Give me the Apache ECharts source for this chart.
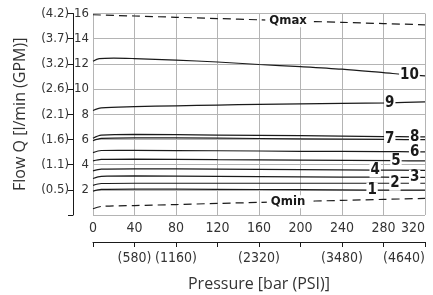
<!DOCTYPE html>
<html lang="en">
<head>
<meta charset="UTF-8">
<title>Flow vs Pressure</title>
<script src="https://cdn.jsdelivr.net/npm/echarts@6/dist/echarts.min.js"></script>
<style>
html, body { margin: 0; padding: 0; background: #fff; }
#chart { width: 433px; height: 295px; }
</style>
</head>
<body>
<div id="chart"></div>
<script>
// pressure ticks (bar) and their PSI labels
const barTicks = [0, 40, 80, 120, 160, 200, 240, 280, 320];
const psiLabels = { 40: '(580)', 80: '(1160)', 160: '(2320)', 240: '(3480)', 320: '(4640)' };
// flow ticks (l/min) and GPM labels
const flowTicks = [0, 2, 4, 6, 8, 10, 12, 14, 16];
const gpmLabels = { 2: '(0.5)', 4: '(1.1)', 6: '(1.6)', 8: '(2.1)', 10: '(2.6)', 12: '(3.2)', 14: '(3.7)', 16: '(4.2)' };

// curves: [pressure bar, flow l/min]
const qmax = [[0, 15.9], [40, 15.8], [80, 15.7], [120, 15.6], [160, 15.5], [188, 15.42], [240, 15.3], [280, 15.2], [320, 15.1]];
const c10 = [[0, 12.2], [6, 12.42], [20, 12.46], [40, 12.42], [80, 12.3], [120, 12.15], [160, 11.95], [200, 11.78], [240, 11.58], [280, 11.3], [305, 11.12], [320, 11.05]];
const c9 = [[0, 8.3], [8, 8.5], [40, 8.6], [80, 8.67], [120, 8.73], [160, 8.79], [200, 8.83], [240, 8.87], [286, 8.91], [320, 8.98]];
const c8 = [[0, 6.1], [8, 6.35], [40, 6.4], [120, 6.35], [200, 6.3], [280, 6.23], [310, 6.21], [320, 6.2]];
const c7 = [[0, 5.9], [8, 6.08], [40, 6.13], [120, 6.1], [200, 6.05], [286, 6.0], [320, 5.98]];
const c6 = [[0, 4.95], [8, 5.12], [40, 5.13], [120, 5.1], [200, 5.06], [280, 5.03], [310, 5.02], [320, 5.01]];
const c5 = [[0, 4.3], [8, 4.42], [40, 4.44], [120, 4.4], [200, 4.36], [292, 4.31], [320, 4.3]];
const c4 = [[0, 3.5], [8, 3.65], [40, 3.67], [120, 3.64], [200, 3.6], [272, 3.57], [320, 3.55]];
const c3 = [[0, 2.9], [8, 3.07], [40, 3.1], [120, 3.07], [200, 3.03], [280, 3.0], [310, 2.99], [320, 2.98]];
const c2 = [[0, 2.35], [8, 2.5], [40, 2.52], [120, 2.52], [200, 2.52], [291, 2.52], [320, 2.52]];
const c1 = [[0, 1.9], [8, 2.04], [40, 2.06], [120, 2.04], [200, 2.01], [269, 1.98], [320, 1.97]];
const qmin = [[0, 0.5], [8, 0.68], [40, 0.75], [80, 0.83], [120, 0.92], [160, 1.0], [188, 1.06], [240, 1.16], [280, 1.24], [320, 1.32]];

// curve names and the pressure where the name sits on the line
const curveNames = ['Qmax', '10', '9', '8', '7', '6', '5', '4', '3', '2', '1', 'Qmin'];
const curveData = [qmax, c10, c9, c8, c7, c6, c5, c4, c3, c2, c1, qmin];
const labelAt = [188, 305, 286, 310, 286, 310, 292, 272, 310, 291, 269, 188];

const narrow = "'Liberation Sans Narrow', 'DejaVu Sans Condensed', 'Roboto Condensed', sans-serif";
const plain = "'Open Sans', 'Noto Sans', sans-serif";
const gridColor = '#b4b4b4';

const series = curveData.map((pts, i) => {
const name = curveNames[i];
const dashed = name === 'Qmax' || name === 'Qmin';
return {
name: name,
type: 'line',
smooth: 0.3,
symbol: 'circle',
symbolSize: 0,
showSymbol: true,
lineStyle: { color: '#1a1a1a', width: 1.2, type: dashed ? [8, 5] : 'solid' },
itemStyle: { color: '#1a1a1a' },
label: { show: false },
emphasis: { disabled: true },
data: pts.map(p => {
if (p[0] !== labelAt[i]) return p;
return {
value: p,
label: {
show: true,
position: 'inside',
formatter: name,
fontFamily: narrow,
fontWeight: 'bold',
fontSize: dashed ? 13 : 15,
color: '#1a1a1a',
backgroundColor: '#fff',
padding: dashed ? [0, 4] : [0, 1]
}
};
})
};
});

const chart = echarts.init(document.getElementById('chart'));
chart.setOption({
animation: false,
grid: { left: 93, right: 8, top: 13.5, bottom: 80, outerBoundsMode: 'none' },
xAxis: [
{
type: 'value', min: 0, max: 320, interval: 40,
axisLine: { show: false },
axisTick: { show: false },
axisLabel: { margin: 6, fontSize: 14, fontFamily: narrow, color: '#333', alignMaxLabel: 'right' },
splitLine: { show: true, lineStyle: { color: gridColor, width: 1 } }
},
{
type: 'value', min: 0, max: 320, interval: 40,
position: 'bottom', offset: 27,
name: 'Pressure [bar (PSI)]',
nameLocation: 'middle', nameGap: 34,
nameTextStyle: { fontSize: 16, fontFamily: plain, color: '#333' },
axisLine: { show: true, onZero: false, lineStyle: { color: '#1a1a1a', width: 1 } },
axisTick: { show: true, length: 5, lineStyle: { color: '#1a1a1a' } },
axisLabel: {
margin: 9, fontSize: 14, fontFamily: narrow, color: '#333',
alignMaxLabel: 'right',
formatter: v => psiLabels[v] || ''
},
splitLine: { show: false }
}
],
yAxis: [
{
type: 'value', min: 0, max: 16, interval: 2,
axisLine: { show: false },
axisTick: { show: false },
axisLabel: { margin: 4, fontSize: 13, fontFamily: narrow, color: '#333', formatter: v => v === 0 ? '' : String(v) },
splitLine: { show: true, lineStyle: { color: gridColor, width: 1 } }
},
{
type: 'value', min: 0, max: 16, interval: 2,
position: 'left', offset: 20,
name: 'Flow Q [l/min (GPM)]',
nameLocation: 'middle', nameGap: 45,
nameTextStyle: { fontSize: 16, fontFamily: plain, color: '#333' },
axisLine: { show: true, onZero: false, lineStyle: { color: '#1a1a1a', width: 1 } },
axisTick: { show: true, length: 5, lineStyle: { color: '#1a1a1a' } },
axisLabel: { margin: 4, fontSize: 13, fontFamily: narrow, color: '#333', formatter: v => gpmLabels[v] || '' },
splitLine: { show: false }
}
],
series: series
});
</script>
</body>
</html>
